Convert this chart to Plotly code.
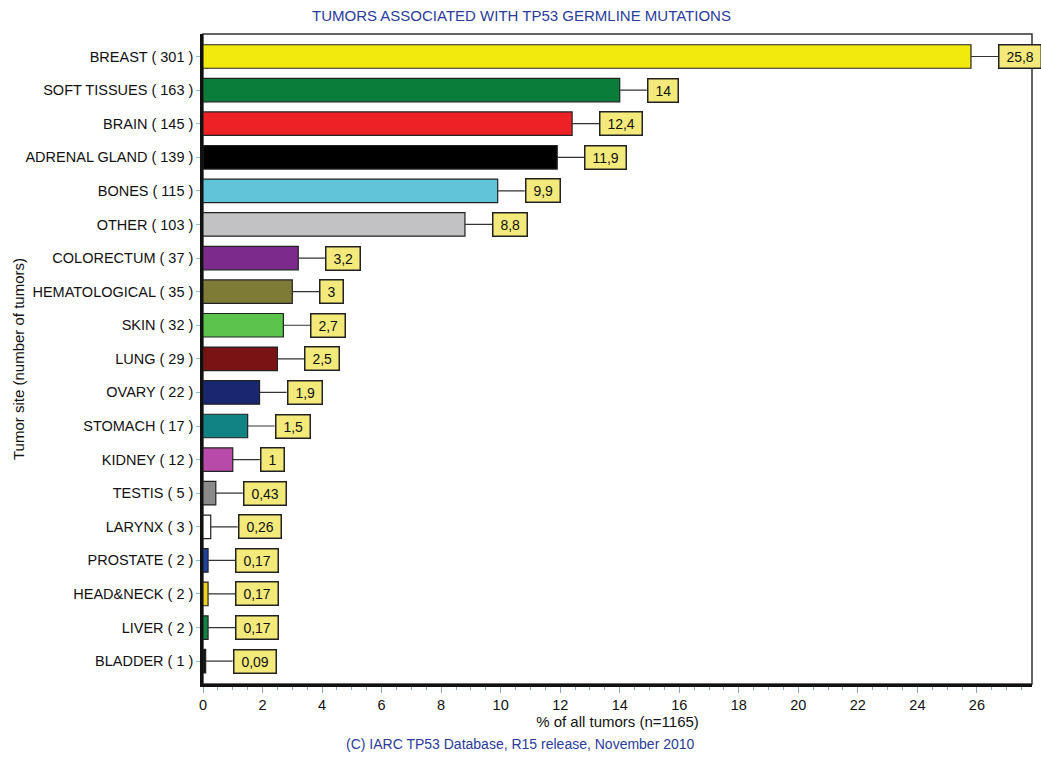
import plotly.graph_objects as go

sites = [
    "BREAST ( 301 )", "SOFT TISSUES ( 163 )", "BRAIN ( 145 )", "ADRENAL GLAND ( 139 )",
    "BONES ( 115 )", "OTHER ( 103 )", "COLORECTUM ( 37 )", "HEMATOLOGICAL ( 35 )",
    "SKIN ( 32 )", "LUNG ( 29 )", "OVARY ( 22 )", "STOMACH ( 17 )", "KIDNEY ( 12 )",
    "TESTIS ( 5 )", "LARYNX ( 3 )", "PROSTATE ( 2 )", "HEAD&NECK ( 2 )", "LIVER ( 2 )",
    "BLADDER ( 1 )",
]
percent = [25.8, 14, 12.4, 11.9, 9.9, 8.8, 3.2, 3, 2.7, 2.5, 1.9, 1.5, 1, 0.43, 0.26,
           0.17, 0.17, 0.17, 0.09]
colors = [
    "#f2ea0c", "#0b7d3b", "#ee2226", "#000000", "#62c4d8", "#c2c2c4", "#7c2b8c",
    "#7e7b36", "#5cc34c", "#7a1414", "#1b2671", "#118385", "#b84ba9", "#8a8a8a",
    "#ffffff", "#2042a2", "#f0d222", "#128443", "#111111",
]
x_ticks = list(range(0, 27, 2))

FONT = "Liberation Sans, Arial, sans-serif"
BLUE = "#2a3c9c"

fig = go.Figure(
    go.Bar(
        x=percent,
        y=sites,
        orientation="h",
        width=0.7,
        marker=dict(color=colors, line=dict(color="#222222", width=1.2)),
        hoverinfo="x+y",
    )
)

for site, value in zip(sites, percent):
    label = f"{value:g}".replace(".", ",")
    fig.add_annotation(
        x=value, y=site, xref="x", yref="y",
        text=f"&nbsp;{label}&nbsp;",
        showarrow=True, arrowhead=0, arrowwidth=1.2, arrowcolor="#333333",
        ax=27, ay=0, xanchor="left",
        bgcolor="#f4ea7c", bordercolor="#222222", borderwidth=1.5, borderpad=3,
        font=dict(family=FONT, size=14, color="#111111"),
    )

fig.add_annotation(
    text="TUMORS ASSOCIATED WITH TP53 GERMLINE MUTATIONS",
    xref="paper", yref="paper", x=(521 - 203) / 829, y=1.028, xanchor="center",
    yanchor="middle", showarrow=False,
    font=dict(family=FONT, size=15, color=BLUE),
)
fig.add_annotation(
    text="(C) IARC TP53 Database, R15 release, November 2010",
    xref="paper", yref="paper", x=(520 - 203) / 829, y=-0.093, xanchor="center",
    yanchor="middle", showarrow=False,
    font=dict(family=FONT, size=14, color=BLUE),
)
fig.add_annotation(
    text="Tumor site (number of tumors)",
    xref="paper", yref="paper", x=(18 - 203) / 829, y=0.5, textangle=-90,
    xanchor="center", yanchor="middle", showarrow=False,
    font=dict(family=FONT, size=15, color="#111111"),
)

fig.add_shape(
    type="rect", xref="paper", yref="paper", x0=0, y0=0, x1=1, y1=1,
    line=dict(color="#333333", width=1.5), layer="below",
)

fig.update_layout(
    width=1041,
    height=758,
    margin=dict(l=203, r=9, t=34, b=74),
    paper_bgcolor="white",
    plot_bgcolor="white",
    showlegend=False,
    xaxis=dict(
        range=[0, 27.85],
        tickvals=x_ticks,
        ticks="outside", ticklen=6, tickcolor="#8ea6bf", tickwidth=1,
        minor=dict(dtick=0.5, ticklen=3, tickcolor="#8ea6bf", ticks="outside"),
        showgrid=False, zeroline=False,
        showline=True, linecolor="#111111", linewidth=2.5,
        tickfont=dict(family=FONT, size=14.5, color="#111111"),
        title=dict(text="% of all tumors (n=1165)", standoff=2,
                   font=dict(family=FONT, size=15, color="#111111")),
    ),
    yaxis=dict(
        categoryorder="array", categoryarray=sites,
        range=[18.68, -0.67],
        ticks="outside", ticklen=4, tickcolor="#8ec0cf", tickwidth=1,
        showgrid=False, zeroline=False,
        showline=True, linecolor="#111111", linewidth=2.5,
        tickfont=dict(family=FONT, size=14.5, color="#111111"),
    ),
)

fig.write_html(
    "out.html",
    config={"displayModeBar": False},
    post_script="document.body.style.margin = '0';",
)
